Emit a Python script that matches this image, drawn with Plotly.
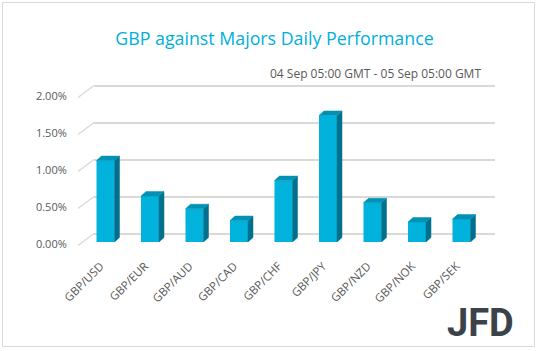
import plotly.graph_objects as go

# ---- data ----
pairs = ["GBP/USD", "GBP/EUR", "GBP/AUD", "GBP/CAD", "GBP/CHF",
         "GBP/JPY", "GBP/NZD", "GBP/NOK", "GBP/SEK"]
change_pct = [1.10, 0.62, 0.45, 0.29, 0.83, 1.71, 0.53, 0.27, 0.31]
y_ticks = [0.0, 0.5, 1.0, 1.5, 2.0]
y_tick_labels = ["0.00%", "0.50%", "1.00%", "1.50%", "2.00%"]
title_text = "GBP against Majors Daily Performance"
subtitle_text = "04 Sep 05:00 GMT - 05 Sep 05:00 GMT"

W, H = 538, 351
def fx(px):
    return px / W
def fy(py):
    return 1 - py / H

FRONT = "#00B2DC"
SIDE = "#00708C"
TOP = "#0091B3"
GRID = "#D9D9D9"
TXT = "#595959"
FONT = "Open Sans"

# geometry of the pseudo-3D (pixel based)
unit_px = 44.5        # px per category
pct_px = 74.0         # px per 1%
bar_w = 18.0 / unit_px
dx = 5.0 / unit_px
dy = 4.5 / pct_px

fig = go.Figure()

n = len(pairs)
xs = list(range(n))

# front faces
fig.add_trace(go.Bar(x=xs, y=change_pct, width=bar_w, marker=dict(color=FRONT, line=dict(width=0)),
                     xaxis="x3", yaxis="y3", hoverinfo="skip", showlegend=False))

# side and top faces
sx, sy = [], []
tx, ty = [], []
for i, v in zip(xs, change_pct):
    r = i + bar_w / 2
    l = i - bar_w / 2
    sx += [r, r + dx, r + dx, r, r, None]
    sy += [0, dy, v + dy, v, 0, None]
    tx += [l, l + dx, r + dx, r, l, None]
    ty += [v, v + dy, v + dy, v, v, None]
fig.add_trace(go.Scatter(x=sx, y=sy, mode="lines", fill="toself", fillcolor=SIDE,
                         line=dict(color=SIDE, width=0.5), xaxis="x3", yaxis="y3",
                         hoverinfo="skip", showlegend=False))
fig.add_trace(go.Scatter(x=tx, y=ty, mode="lines", fill="toself", fillcolor=TOP,
                         line=dict(color=TOP, width=0.5), xaxis="x3", yaxis="y3",
                         hoverinfo="skip", showlegend=False))

# dummy traces so that the grid and label axes render
fig.add_trace(go.Scatter(x=[0], y=[0], mode="markers", marker=dict(opacity=0),
                         xaxis="x", yaxis="y", hoverinfo="skip", showlegend=False))
fig.add_trace(go.Scatter(x=[0], y=[0], mode="markers", marker=dict(opacity=0),
                         xaxis="x2", yaxis="y2", hoverinfo="skip", showlegend=False))

# floor diagonals (pixel overlay axis)
front0, back0 = 245.5, 233.5
dxs, dys = [], []
for t in y_ticks:
    dxs += [78, 94, None]
    dys += [front0 - t * pct_px, back0 - t * pct_px, None]
fig.add_trace(go.Scatter(x=dxs, y=dys, mode="lines", line=dict(color=GRID, width=1.3),
                         xaxis="x4", yaxis="y4", hoverinfo="skip", showlegend=False))

# bar axis
bar0 = 242.0
bar_rng = [0, 2.1]
bar_top_px = bar0 - bar_rng[1] * pct_px
x3_rng = [-0.6, 8.6]
x3_left = 105.5 + x3_rng[0] * unit_px
x3_right = 105.5 + x3_rng[1] * unit_px

# back grid axis
g_rng = [-0.03, 2.03]
g_bot = back0 - g_rng[0] * pct_px
g_top = back0 - g_rng[1] * pct_px

# label axis
l0 = 244.5
l_rng = [0, 2.0]

fig.update_layout(
    width=W, height=H,
    margin=dict(l=0, r=0, t=0, b=0, autoexpand=False),
    paper_bgcolor="white", plot_bgcolor="rgba(0,0,0,0)",
    showlegend=False,
    font=dict(family=FONT, color=TXT, size=11),
    title=dict(text=title_text, x=fx(274.5), y=fy(39), xanchor="center", yanchor="middle",
               automargin=False,
               font=dict(family=FONT, size=17.8, color="#00B0DA")),
    xaxis=dict(domain=[fx(78), fx(480)], range=[0, 1], visible=False, automargin=False),
    yaxis=dict(domain=[fy(l0), fy(l0 - l_rng[1] * pct_px)], range=l_rng, anchor="x",
               automargin=False,
               tickvals=y_ticks, ticktext=y_tick_labels, showgrid=False, zeroline=False,
               showline=False, ticks="outside", ticklen=8, tickcolor="rgba(0,0,0,0)",
               tickfont=dict(family=FONT, size=11, color=TXT)),
    xaxis2=dict(domain=[fx(94), fx(495)], range=[0, 1], visible=False, anchor="y2",
                automargin=False),
    yaxis2=dict(domain=[fy(g_bot), fy(g_top)], range=g_rng, anchor="x2", automargin=False,
                tickvals=y_ticks, showticklabels=False, showgrid=True, gridcolor=GRID,
                gridwidth=1.5, zeroline=False, showline=False, ticks=""),
    xaxis3=dict(domain=[fx(x3_left), fx(x3_right)], range=x3_rng, anchor="y3",
                automargin=False,
                tickvals=xs, ticktext=pairs, tickangle=-45, showgrid=False, zeroline=False,
                showline=False, ticks="outside", ticklen=12, tickcolor="rgba(0,0,0,0)",
                ticklabelshift=-5,
                tickfont=dict(family=FONT, size=11.5, color=TXT)),
    yaxis3=dict(domain=[fy(bar0), fy(bar_top_px)], range=bar_rng, anchor="x3",
                visible=False, automargin=False),
    xaxis4=dict(domain=[0, 1], range=[0, W], visible=False, anchor="y4", automargin=False),
    yaxis4=dict(domain=[0, 1], range=[H, 0], visible=False, anchor="x4", automargin=False),
    shapes=[dict(type="rect", xref="paper", yref="paper",
                 x0=fx(2.5), x1=fx(534.5), y0=fy(2.5), y1=fy(346.5),
                 line=dict(color=GRID, width=1), fillcolor="rgba(0,0,0,0)", layer="below")],
    annotations=[
        dict(text=subtitle_text, x=fx(483), y=fy(73), xref="paper", yref="paper",
             xanchor="right", yanchor="middle", showarrow=False,
             font=dict(family=FONT, size=12, color=TXT)),
        dict(text="<b>JFD</b>", x=fx(480.5), y=fy(323), xref="paper", yref="paper",
             xanchor="center", yanchor="middle", showarrow=False,
             font=dict(family="Roboto", size=38, color="#3B4249")),
    ],
)

fig.write_html("out.html")
